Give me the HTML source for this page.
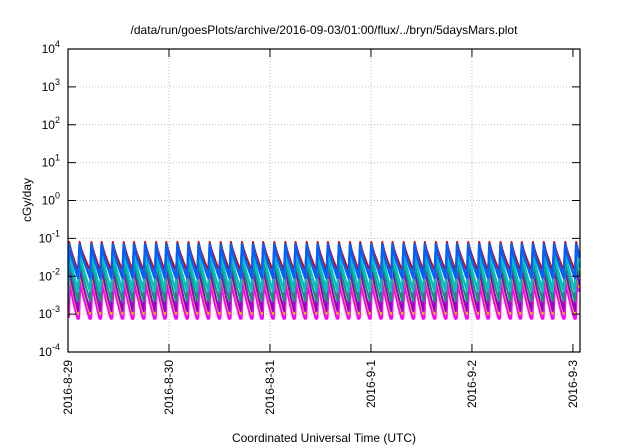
<!DOCTYPE html>
<html><head><meta charset="utf-8"><style>
body{margin:0;background:#fff}
svg{display:block;font-family:"Liberation Sans",sans-serif}
</style></head><body>
<svg id="chart" width="640" height="448">
<text x="324" y="34" text-anchor="middle" font-size="12">/data/run/goesPlots/archive/2016-09-03/01:00/flux/../bryn/5daysMars.plot</text>
<g id="grid"></g><g id="series"></g><g id="axes"></g>
<text transform="translate(31,200) rotate(-90)" text-anchor="middle" font-size="12">cGy/day</text>
<text x="324" y="442" text-anchor="middle" font-size="12">Coordinated Universal Time (UTC)</text>
</svg>
<script>
const xTickLabels=["2016-8-29","2016-8-30","2016-8-31","2016-9-1","2016-9-2","2016-9-3"];
const yTickExps=[-4,-3,-2,-1,0,1,2,3,4];
const cycleStarts=[0.00,0.10,0.22,0.32,0.43,0.54,0.64,0.75,0.86,0.96,1.07,1.18,1.28,1.39,1.50,1.60,1.71,1.82,1.92,2.03,2.14,2.24,2.35,2.46,2.56,2.67,2.78,2.88,2.99,3.10,3.20,3.31,3.42,3.52,3.63,3.74,3.84,3.95,4.06,4.16,4.27,4.38,4.48,4.59,4.70,4.80,4.91,5.02];
const seriesNames=["magenta","yellow","purple","green","teal","red","blue"];
const seriesColors=["#ff00ff","#e6c000","#9400d3","#009e73","#00c0c0","#e00000","#0060ff"];
const seriesPeaks=[0.012,0.015,0.018,0.028,0.045,0.08,0.07];
const seriesTroughs=[0.0008,0.0010,0.0012,0.0022,0.004,0.014,0.009];
const seriesWidths=[4,2,2,2,2.5,2,2.5];
const L=68,R=580,T=49,B=352,days=5.07;
const xs=d=>L+(d/days)*(R-L);
const ys=v=>T+(4-Math.log10(v))/8*(B-T);
const NS="http://www.w3.org/2000/svg";
function mk(tag,attrs,parent){const e=document.createElementNS(NS,tag);for(const k in attrs)e.setAttribute(k,attrs[k]);parent.appendChild(e);return e;}
const grid=document.getElementById('grid'),axes=document.getElementById('axes'),ser=document.getElementById('series');
yTickExps.forEach(p=>{const y=ys(Math.pow(10,p));
 if(p>-4&&p<4){const g=mk('line',{x1:L,x2:R,y1:y,y2:y,stroke:'#bbb','stroke-dasharray':'1,2'},grid);}
 mk('line',{x1:L,x2:L+8,y1:y,y2:y,stroke:'#000'},axes);mk('line',{x1:R,x2:R-8,y1:y,y2:y,stroke:'#000'},axes);
 const t=mk('text',{x:L-8,y:y+4,'text-anchor':'end','font-size':'12'},axes);
 
 
 t.innerHTML='10<tspan dy="-6" font-size="9">'+p+'</tspan>';});
xTickLabels.forEach((lab,i)=>{const x=xs(i);
 if(i>0&&i<5){const g=mk('line',{x1:x,x2:x,y1:T,y2:B,stroke:'#bbb','stroke-dasharray':'1,2'},grid);}
 mk('line',{x1:x,x2:x,y1:B,y2:B-8,stroke:'#000'},axes);mk('line',{x1:x,x2:x,y1:T,y2:T+8,stroke:'#000'},axes);
 const t=mk('text',{transform:`translate(${x+4},${B+8}) rotate(-90)`,'text-anchor':'end','font-size':'12'},axes);
 
 
 t.textContent=lab;});
const fr=mk('rect',{x:L,y:T,width:R-L,height:B-T,fill:'none',stroke:'#000','stroke-width':1.2},axes);


seriesNames.forEach((n,s)=>{const pk=seriesPeaks[s],tr=seriesTroughs[s];let d='';
 for(let c=0;c<cycleStarts.length;c++){const t0=cycleStarts[c];const t1=c+1<cycleStarts.length?cycleStarts[c+1]:t0+0.107;
  const per=t1-t0,rise=per*0.12;
  d+=(c===0?'M':'L')+xs(t0).toFixed(1)+','+ys(tr).toFixed(1);
  d+='L'+xs(Math.min(t0+rise,days)).toFixed(1)+','+ys(pk).toFixed(1);
  for(let k=1;k<=6;k++){const f=k/6;const tt=t0+rise+(per-rise)*f;if(tt>days)break;
   const v=Math.exp(Math.log(pk)+(Math.log(tr)-Math.log(pk))*Math.pow(f,0.8));
   d+='L'+xs(tt).toFixed(1)+','+ys(v).toFixed(1);}
 }
 const p=mk('path',{d:d,fill:'none',stroke:seriesColors[s],'stroke-width':seriesWidths[s],'stroke-linejoin':'round'},ser);
 
 
});
ser.setAttribute('clip-path','url(#clip)');
const cp=mk('clipPath',{id:'clip'},document.getElementById('chart'));mk('rect',{x:L,y:T,width:R-L,height:B-T},cp);
</script>
</body></html>
